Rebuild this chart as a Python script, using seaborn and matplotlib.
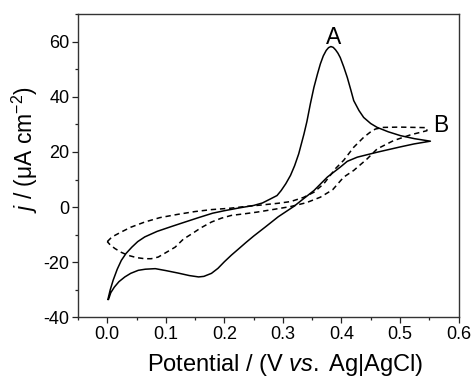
import numpy as np
import pandas as pd
import matplotlib
matplotlib.use("Agg")
import matplotlib.pyplot as plt
import seaborn as sns

# solid CV (A): forward scan then reverse scan
solid_E = [0.001, 0.005, 0.01, 0.017, 0.024, 0.032, 0.042, 0.052, 0.064, 0.085, 0.11, 0.13,
           0.156, 0.18, 0.2, 0.225, 0.25, 0.265, 0.279, 0.29, 0.297, 0.305, 0.313, 0.32,
           0.327, 0.336, 0.341, 0.347, 0.353, 0.359, 0.364, 0.369, 0.374, 0.378, 0.382,
           0.386, 0.39, 0.394, 0.398, 0.404, 0.41, 0.416, 0.421, 0.43, 0.438, 0.45,
           0.461, 0.48, 0.501, 0.525, 0.552,
           0.524, 0.5, 0.461, 0.427, 0.41, 0.398, 0.376, 0.353, 0.335, 0.319, 0.292,
           0.27, 0.25, 0.237, 0.224, 0.212, 0.2, 0.189, 0.178, 0.165, 0.156, 0.14,
           0.121, 0.1, 0.082, 0.065, 0.053, 0.04, 0.03, 0.02, 0.012, 0.006, 0.002]
solid_j = [-33.5, -30.0, -26.5, -22.5, -19.3, -16.8, -14.5, -12.5, -10.8, -8.8, -7.0, -5.6,
           -3.8, -2.2, -1.3, -0.3, 0.6, 1.5, 3.0, 4.2, 6.0, 8.5, 11.5, 15.0,
           19.3, 26.5, 31.0, 37.5, 43.4, 48.2, 51.9, 54.8, 56.8, 57.8, 58.2,
           57.9, 57.0, 55.8, 54.2, 50.8, 47.0, 42.5, 38.6, 35.0, 32.5, 30.3,
           28.9, 27.3, 25.9, 24.8, 23.9,
           22.9, 21.8, 19.9, 18.1, 16.6, 14.5, 10.9, 6.0, 3.0, 0.3, -3.5,
           -7.2, -10.5, -12.8, -15.2, -17.4, -19.8, -22.2, -24.0, -25.1, -25.3, -24.8,
           -23.9, -23.0, -22.3, -22.5, -22.9, -24.0, -25.3, -27.0, -29.0, -31.0, -33.5]

# dashed CV (B)
dash_E = [0.0, 0.008, 0.024, 0.04, 0.064, 0.09, 0.121, 0.15, 0.178, 0.21, 0.235, 0.26,
          0.292, 0.313, 0.335, 0.353, 0.37, 0.39, 0.404, 0.421, 0.438, 0.45, 0.458,
          0.472, 0.5, 0.546,
          0.546, 0.518, 0.489, 0.461, 0.444, 0.421, 0.404, 0.385, 0.364, 0.34, 0.313,
          0.285, 0.256, 0.235, 0.212, 0.195, 0.178, 0.16, 0.145, 0.13, 0.116, 0.1,
          0.087, 0.075, 0.064, 0.05, 0.036, 0.024, 0.013, 0.005, 0.0]
dash_j = [-12.5, -10.8, -9.0, -7.3, -5.4, -3.8, -2.6, -1.6, -0.9, -0.4, 0.2, 0.7,
          1.4, 2.0, 3.5, 5.4, 8.5, 14.0, 17.0, 21.7, 25.3, 27.3, 28.3,
          28.9, 29.0, 28.8,
          27.7, 26.2, 24.1, 21.1, 17.5, 13.3, 10.9, 6.3, 3.6, 1.6, 0.2,
          -0.8, -1.8, -2.4, -3.0, -4.0, -5.4, -7.5, -9.6, -11.6, -14.5, -16.5,
          -18.1, -18.7, -18.7, -18.3, -17.5, -16.4, -15.0, -13.7, -12.5]

df = pd.concat([
    pd.DataFrame({"E": solid_E, "j": solid_j, "curve": "A"}),
    pd.DataFrame({"E": dash_E, "j": dash_j, "curve": "B"}),
], ignore_index=True)

sns.set_style("ticks")
plt.rcParams["font.family"] = ["Liberation Sans", "DejaVu Sans"]
plt.rcParams["mathtext.fontset"] = "custom"
plt.rcParams["mathtext.rm"] = "Liberation Sans"
plt.rcParams["mathtext.it"] = "Liberation Sans:italic"
plt.rcParams["axes.unicode_minus"] = False
plt.rcParams["text.color"] = "black"
plt.rcParams["axes.labelcolor"] = "black"
plt.rcParams["xtick.color"] = "#222222"
plt.rcParams["ytick.color"] = "#222222"
plt.rcParams["xtick.labelcolor"] = "black"
plt.rcParams["ytick.labelcolor"] = "black"

fig = plt.figure(figsize=(4.74, 3.79), dpi=100)
ax = fig.add_axes([0.1646, 0.1623, 0.8027, 0.8008])

sns.lineplot(data=df, x="E", y="j", style="curve", sort=False, estimator=None,
             color="black", linewidth=1.1, dashes={"A": "", "B": (3.5, 2.5)},
             legend=False, ax=ax)

ax.set_xlim(-0.05, 0.6)
ax.set_ylim(-40, 70)
ax.set_xticks([0.0, 0.1, 0.2, 0.3, 0.4, 0.5, 0.6])
ax.set_xticks(np.arange(-0.05, 0.6, 0.1), minor=True)
ax.set_yticks([-40, -20, 0, 20, 40, 60])
ax.set_yticks([-30, -10, 10, 30, 50, 70], minor=True)
ax.tick_params(which="major", direction="out", length=4, width=0.9, labelsize=13, pad=2)
ax.tick_params(which="minor", direction="out", length=2.5, width=0.9)
for s in ax.spines.values():
    s.set_linewidth(1.0)
    s.set_color("#333333")

ax.set_xlabel("Potential / (V $\\mathit{vs.}\\;$Ag|AgCl)", fontsize=17)
ax.xaxis.set_label_coords(0.543, -0.156)
ax.xaxis.label.set_va("center")
ax.set_ylabel("$j$ / (μA cm$^{-2}$)", fontsize=16.5)
ax.yaxis.set_label_coords(-0.139, 0.552)
ax.yaxis.label.set_va("center")

ax.text(0.387, 61.5, "A", fontsize=16.5, ha="center", va="center")
ax.text(0.569, 29.5, "B", fontsize=16.5, ha="center", va="center")

fig.savefig("out.png", dpi=100)
